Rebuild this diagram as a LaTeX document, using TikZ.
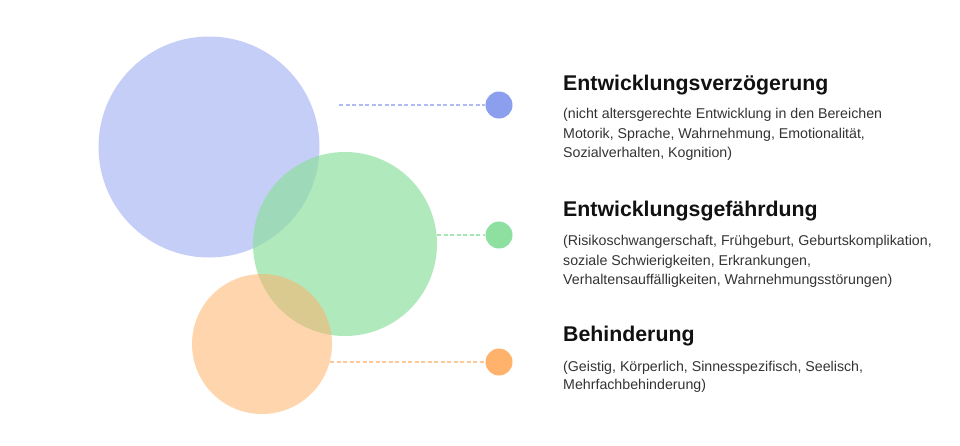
\documentclass[tikz,border=0pt]{standalone}
\usepackage{fontspec}
\setmainfont{Liberation Sans}
\definecolor{cblue}{HTML}{8C9EEE}
\definecolor{cgreen}{HTML}{8EE0A0}
\definecolor{corange}{HTML}{FFB26B}
\definecolor{ttl}{HTML}{111111}
\definecolor{sub}{HTML}{333333}
\tikzset{
  big/.style={circle, inner sep=0pt, draw=none},
  dot/.style={circle, inner sep=0pt, minimum size=27pt, draw=none},
  link/.style={line width=2.4pt, dash pattern=on 4pt off 2.5pt},
  ttlnode/.style={anchor=base west, inner sep=0pt, text=ttl, font=\fontsize{21.3}{24}\selectfont\bfseries},
  subnode/.style={anchor=base west, inner sep=0pt, text=sub, font=\fontsize{14.2}{17}\selectfont},
}
\begin{document}
\begin{tikzpicture}[x=1pt, y=-1pt]
\useasboundingbox (0,0) rectangle (960,445);
% big circles
\node[big, minimum size=221pt, fill=cblue, fill opacity=0.5] (B) at (209,147) {};
\node[big, minimum size=184pt, fill=cgreen, fill opacity=0.7] (G) at (345,244) {};
\node[big, minimum size=140pt, fill=corange, fill opacity=0.55] (O) at (262,344) {};
% dots
\node[dot, fill=cblue] (db) at (499,105) {};
\node[dot, fill=cgreen] (dg) at (499,235) {};
\node[dot, fill=corange] (do) at (499,362) {};
% connectors
\coordinate (sb) at (339,105);
\coordinate (sg) at (437,235);
\coordinate (so) at (330,362);
\draw[link, draw=cblue!70] (sb) -- (db);
\draw[link, draw=cgreen!80] (sg) -- (dg);
\draw[link, draw=corange!70] (so) -- (do);
% texts
\node[ttlnode] (t1) at (563,90.7) {Entwicklungsverzögerung};
\node[subnode] (s1a) at (563,118.5) {(nicht altersgerechte Entwicklung in den Bereichen};
\node[subnode] (s1b) at (563,138.5) {Motorik, Sprache, Wahrnehmung, Emotionalität,};
\node[subnode] (s1c) at (563,157.7) {Sozialverhalten, Kognition)};
\node[ttlnode] (t2) at (563,216.7) {Entwicklungsgefährdung};
\node[subnode] (s2a) at (563,245.7) {(Risikoschwangerschaft, Frühgeburt, Geburtskomplikation,};
\node[subnode] (s2b) at (563,265) {soziale Schwierigkeiten, Erkrankungen,};
\node[subnode] (s2c) at (563,284.3) {Verhaltensauffälligkeiten, Wahrnehmungsstörungen)};
\node[ttlnode] (t3) at (563,341) {Behinderung};
\node[subnode] (s3a) at (563,371) {(Geistig, Körperlich, Sinnesspezifisch, Seelisch,};
\node[subnode] (s3b) at (563,389.3) {Mehrfachbehinderung)};
\end{tikzpicture}
\end{document}
